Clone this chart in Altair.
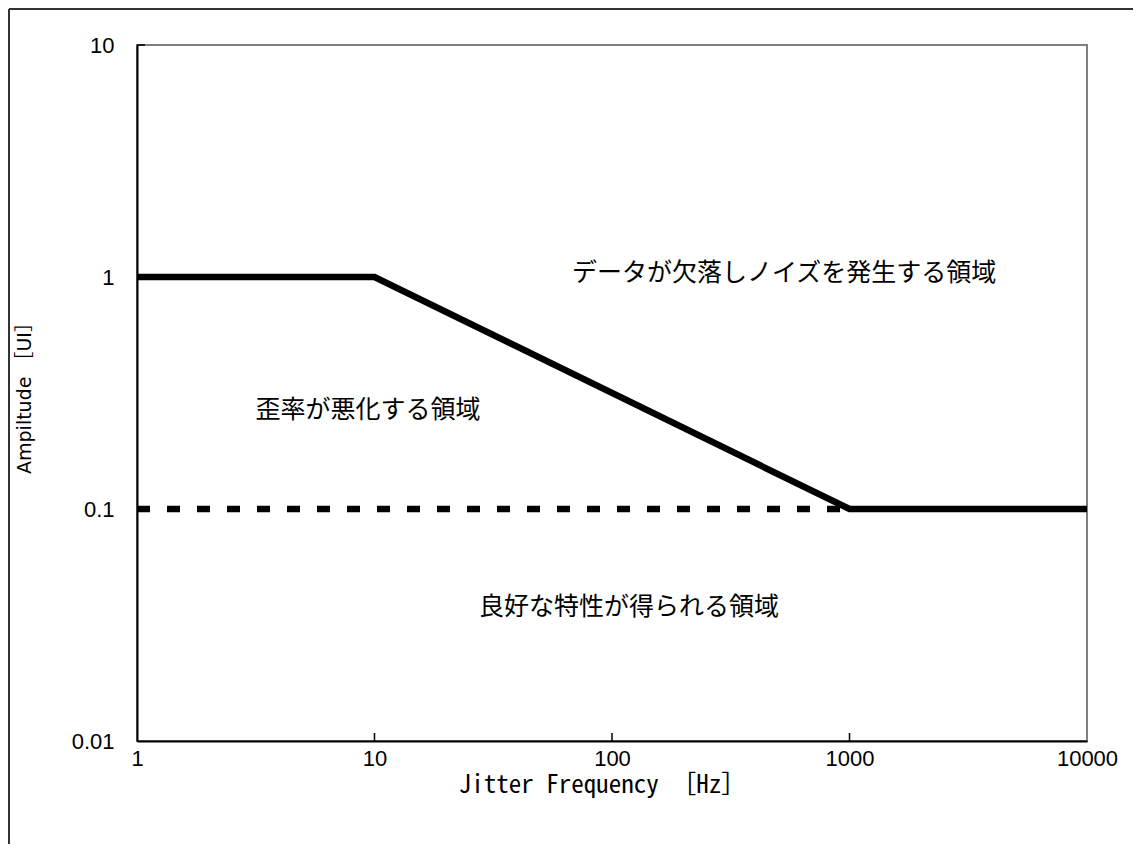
import altair as alt
import pandas as pd

# Data
limit_freq = [1, 10, 1000, 10000]
limit_amp = [1, 1, 0.1, 0.1]
dash_freq = [1, 1000]
dash_amp = [0.1, 0.1]
x_ticks = [1, 10, 100, 1000, 10000]
y_ticks = [0.01, 0.1, 1, 10]
label_text = ["データが欠落しノイズを発生する領域", "歪率が悪化する領域", "良好な特性が得られる領域"]
label_freq = [530, 9.4, 118]
label_amp = [1.04, 0.267, 0.0379]

W, H = 950, 696
LAT = "Liberation Sans, Arial, Noto Sans CJK JP"
WIDE = "DejaVu Sans, Noto Sans CJK JP"
MONO = "Noto Sans Mono CJK JP, DejaVu Sans Mono"
CJK = "Noto Sans CJK JP"

xs = alt.Scale(type="log", domain=[1, 10000])
ys = alt.Scale(type="log", domain=[0.01, 10])

solid_df = pd.DataFrame({"f": limit_freq, "a": limit_amp})
dash_df = pd.DataFrame({"f": dash_freq, "a": dash_amp})
lab_df = pd.DataFrame({"t": label_text, "f": label_freq, "a": label_amp})
xt_df = pd.DataFrame({"f": x_ticks[1:-1]})
yt_df = pd.DataFrame({"a": y_ticks[1:]})

xaxis = alt.Axis(values=x_ticks, format="d", title="Jitter Frequency　［Hz］", grid=False,
                 ticks=False, domainColor="black", domainWidth=2, labelFont=LAT,
                 labelFontSize=22, labelColor="black", labelPadding=7, titleFont=MONO,
                 titleFontSize=25, titleFontWeight="normal", titleColor="black", titlePadding=3,
                 titleX=W / 2 - 10, labelFlush=False)
yaxis = alt.Axis(values=y_ticks, title="Ampiltude ［UI］", grid=False, ticks=False,
                 domainColor="black", domainWidth=2, labelFont=LAT, labelFontSize=22,
                 labelColor="black", labelPadding=23, titleFont=WIDE, titleFontSize=19,
                 titleFontWeight="normal", titleColor="black", titlePadding=37,
                 labelFlush=False, labelExpr="datum.value >= 1 ? format(datum.value, 'd') : format(datum.value, '.2~f')")

base_solid = alt.Chart(solid_df).mark_line(color="black", strokeWidth=6.5, strokeJoin="miter").encode(
    x=alt.X("f:Q", scale=xs, axis=xaxis),
    y=alt.Y("a:Q", scale=ys, axis=yaxis),
)
dashed = alt.Chart(dash_df).mark_line(color="black", strokeWidth=6.5, strokeDash=[13, 17]).encode(
    x=alt.X("f:Q", scale=xs), y=alt.Y("a:Q", scale=ys)
)
labels = alt.Chart(lab_df).mark_text(font=CJK, fontSize=25, color="black").encode(
    x=alt.X("f:Q", scale=xs), y=alt.Y("a:Q", scale=ys), text="t:N"
)
xticks = alt.Chart(xt_df).mark_rule(color="black", strokeWidth=1.5).encode(
    x=alt.X("f:Q", scale=xs), y=alt.value(H), y2=alt.value(H - 8)
)
yticks = alt.Chart(yt_df).mark_rule(color="black", strokeWidth=1.5).encode(
    y=alt.Y("a:Q", scale=ys), x=alt.value(0), x2=alt.value(8)
)
border_df = pd.DataFrame({"k": [0]})
border_left = alt.Chart(border_df).mark_rule(color="#333333", strokeWidth=2).encode(
    x=alt.value(-128), y=alt.value(-36), y2=alt.value(H + 110)
)
border_top = alt.Chart(border_df).mark_rule(color="#333333", strokeWidth=2).encode(
    x=alt.value(-128), x2=alt.value(W + 50), y=alt.value(-36)
)

chart = alt.layer(base_solid, dashed, xticks, yticks, labels, border_left, border_top).properties(
    width=W, height=H,
    autosize=alt.AutoSizeParams(type="none"),
    padding={"left": 129, "top": 37, "right": 46, "bottom": 103},
    background="white",
).configure_view(stroke="#808080", strokeWidth=2)

chart.save("out.html", embed_options={"renderer": "svg", "actions": False})
